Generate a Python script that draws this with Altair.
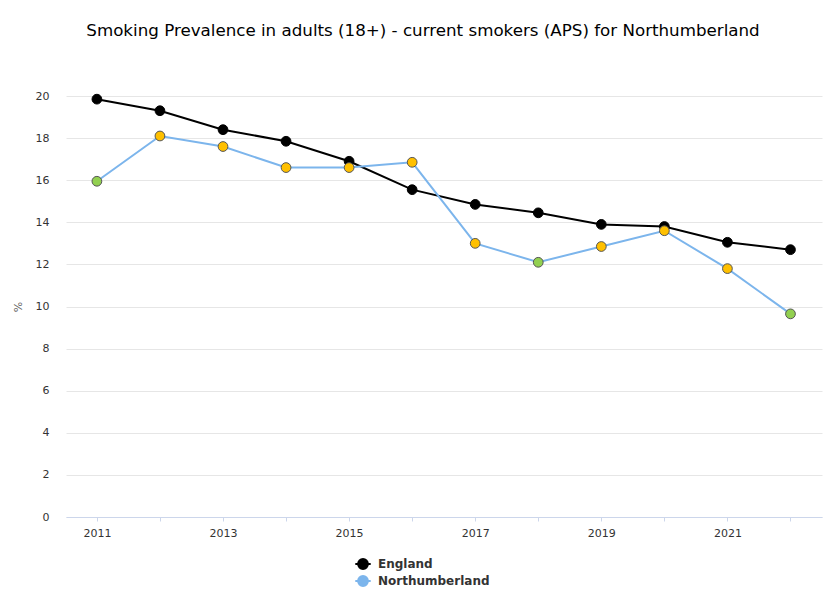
import altair as alt
import pandas as pd

years = list(range(2011, 2023))
england = [19.85, 19.3, 18.4, 17.85, 16.9, 15.55, 14.85, 14.45, 13.9, 13.8, 13.05, 12.7]
northumberland = [15.95, 18.1, 17.6, 16.6, 16.6, 16.85, 13.0, 12.1, 12.85, 13.6, 11.8, 9.65]
north_sig = ["better", "similar", "similar", "similar", "similar", "similar",
             "similar", "better", "similar", "similar", "similar", "better"]
series_names = ["England", "Northumberland"]
series_colors = ["#000000", "#7cb5ec"]
sig_names = ["England", "better", "similar"]
sig_colors = ["#000000", "#92d050", "#ffc000"]

rows = []
for i, y in enumerate(years):
    rows.append({"year": y, "value": england[i], "series": "England", "sig": "England"})
for i, y in enumerate(years):
    rows.append({"year": y, "value": northumberland[i], "series": "Northumberland", "sig": north_sig[i]})
df = pd.DataFrame(rows)

FONT = "DejaVu Sans"
legend_path = "M-1.1,0L1.1,0M-0.7,0A0.7,0.7,0,1,1,0.7,0A0.7,0.7,0,1,1,-0.7,0Z"

x_enc = alt.X("year:Q",
              scale=alt.Scale(domain=[2010.51, 2022.5], nice=False, zero=False),
              axis=alt.Axis(values=years, format="d", title=None,
                            labelExpr="datum.value % 2 == 1 ? datum.label : ''",
                            grid=False, domainColor="#ccd6eb", tickColor="#ccd6eb",
                            tickSize=4, labelPadding=6, labelFontSize=11,
                            labelColor="#333333", labelFont=FONT))
y_enc = alt.Y("value:Q",
              scale=alt.Scale(domain=[0, 20], nice=False),
              axis=alt.Axis(values=list(range(0, 21, 2)), title="%", titleFont=FONT,
                            titleFontSize=11, titleFontWeight="normal", titleColor="#666666",
                            titlePadding=12, domain=False, ticks=False, labelPadding=17,
                            labelFontSize=11, labelColor="#333333", labelFont=FONT,
                            gridColor="#e6e6e6", gridWidth=1))

color_enc = alt.Color("series:N",
                      scale=alt.Scale(domain=series_names, range=series_colors),
                      legend=alt.Legend(title=None, orient="none", legendX=289, legendY=460,
                                        direction="vertical", symbolType=legend_path,
                                        symbolSize=196, symbolStrokeWidth=2,
                                        labelFont=FONT, labelFontSize=12, labelFontWeight="bold",
                                        labelColor="#333333", rowPadding=-2, labelOffset=7))

lines = alt.Chart(df).mark_line(strokeWidth=2).encode(
    x=x_enc, y=y_enc, color=color_enc, order="year:Q",
)

legend_carrier = alt.Chart(df).mark_point(filled=True, size=0, opacity=1).encode(
    x=x_enc, y=y_enc, color=color_enc,
)

points = alt.Chart(df).mark_point(filled=True, size=95, strokeWidth=1, opacity=1).encode(
    x=x_enc, y=y_enc,
    fill=alt.Fill("sig:N", scale=alt.Scale(domain=sig_names, range=sig_colors), legend=None),
    stroke=alt.Stroke("series:N", scale=alt.Scale(domain=series_names, range=["#000000", "#555555"]), legend=None),
)

chart = alt.layer(lines, legend_carrier, points).properties(
    width=756, height=421,
    title=alt.TitleParams("Smoking Prevalence in adults (18+) - current smokers (APS) for Northumberland",
                          font=FONT, fontSize=16.7, fontWeight="normal", color="#000000",
                          anchor="middle", dx=-21, offset=50),
    autosize=alt.AutoSizeParams(type="none"),
    padding={"left": 66, "top": 96, "right": 6, "bottom": 72},
).configure(background="#ffffff").configure_view(stroke=None)

chart.save("out.html", embed_options={"renderer": "svg", "actions": False})
